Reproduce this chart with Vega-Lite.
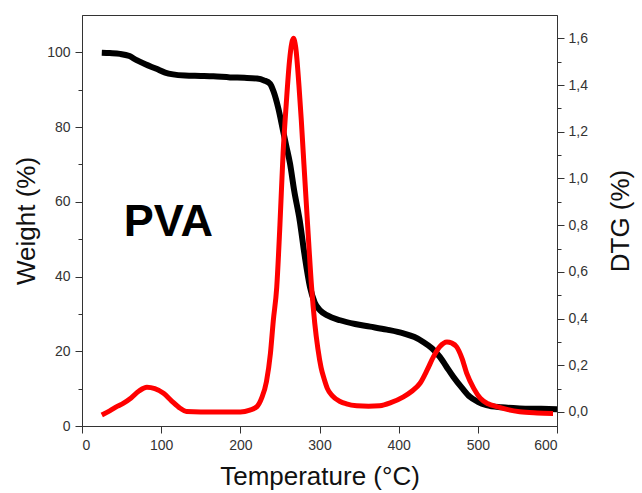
{
  "$schema": "https://vega.github.io/schema/vega-lite/v6.json",
  "autosize": "none",
  "width": 475,
  "height": 411,
  "padding": {"left": 82, "top": 15, "right": 85, "bottom": 67},
  "background": "white",
  "config": {
    "view": {"stroke": "#333", "strokeWidth": 1},
    "font": "Liberation Sans",
    "axis": {
      "labelFont": "Liberation Sans",
      "labelFontSize": 14,
      "labelColor": "#333",
      "titleFont": "Liberation Sans",
      "titleFontSize": 26,
      "titleFontWeight": "normal",
      "titleColor": "#111",
      "domainColor": "#333",
      "tickColor": "#333",
      "grid": false
    }
  },
  "datasets": {
    "tga": [
      {"T": 25, "W": 99.9}, {"T": 35, "W": 99.8}, {"T": 48, "W": 99.6}, {"T": 60, "W": 99.0},
      {"T": 69, "W": 97.9}, {"T": 80, "W": 96.8}, {"T": 94, "W": 95.6}, {"T": 105, "W": 94.6},
      {"T": 115, "W": 94.1}, {"T": 130, "W": 93.8}, {"T": 150, "W": 93.7}, {"T": 166, "W": 93.6},
      {"T": 187, "W": 93.3}, {"T": 205, "W": 93.2}, {"T": 221, "W": 93.0}, {"T": 230, "W": 92.5},
      {"T": 237.5, "W": 91.6}, {"T": 242, "W": 89.5}, {"T": 248, "W": 85}, {"T": 254, "W": 79},
      {"T": 258, "W": 75}, {"T": 262.7, "W": 70.3}, {"T": 268, "W": 63}, {"T": 275, "W": 55},
      {"T": 281, "W": 46}, {"T": 288, "W": 37.2}, {"T": 294, "W": 33}, {"T": 300.6, "W": 31.0},
      {"T": 310, "W": 29.6}, {"T": 326, "W": 28.3}, {"T": 345, "W": 27.3}, {"T": 364, "W": 26.6},
      {"T": 385, "W": 25.8}, {"T": 406, "W": 24.8}, {"T": 420, "W": 23.8}, {"T": 431, "W": 22.5},
      {"T": 442, "W": 20.8}, {"T": 452, "W": 18.5}, {"T": 460, "W": 16}, {"T": 469, "W": 13.2},
      {"T": 480, "W": 10.2}, {"T": 490, "W": 7.8}, {"T": 500, "W": 6.5}, {"T": 511, "W": 5.6},
      {"T": 530, "W": 5.0}, {"T": 553, "W": 4.7}, {"T": 580, "W": 4.6}, {"T": 600, "W": 4.5}
    ],
    "dtg": [
      {"T": 25, "D": -0.013}, {"T": 35, "D": 0.005}, {"T": 45, "D": 0.025}, {"T": 52, "D": 0.037},
      {"T": 62, "D": 0.06}, {"T": 72, "D": 0.09}, {"T": 82, "D": 0.106}, {"T": 92, "D": 0.1},
      {"T": 103, "D": 0.08}, {"T": 113, "D": 0.048}, {"T": 124, "D": 0.016}, {"T": 132, "D": 0.002},
      {"T": 150, "D": 0.0}, {"T": 175, "D": 0.0}, {"T": 200, "D": 0.0}, {"T": 212, "D": 0.008},
      {"T": 221, "D": 0.023}, {"T": 227, "D": 0.06}, {"T": 233, "D": 0.13}, {"T": 238, "D": 0.25},
      {"T": 241.6, "D": 0.39}, {"T": 246, "D": 0.535}, {"T": 250, "D": 0.8}, {"T": 254, "D": 1.108},
      {"T": 258, "D": 1.32}, {"T": 262, "D": 1.5}, {"T": 265, "D": 1.58}, {"T": 267, "D": 1.6},
      {"T": 270, "D": 1.56}, {"T": 274, "D": 1.4}, {"T": 277, "D": 1.25}, {"T": 279.5, "D": 1.108},
      {"T": 285, "D": 0.8}, {"T": 290, "D": 0.535}, {"T": 294, "D": 0.38}, {"T": 298, "D": 0.27},
      {"T": 302, "D": 0.19}, {"T": 306, "D": 0.14}, {"T": 310, "D": 0.1}, {"T": 316, "D": 0.07},
      {"T": 326, "D": 0.045}, {"T": 334, "D": 0.035}, {"T": 347, "D": 0.027}, {"T": 362, "D": 0.025},
      {"T": 376, "D": 0.027}, {"T": 390, "D": 0.04}, {"T": 406, "D": 0.065}, {"T": 417, "D": 0.09},
      {"T": 427, "D": 0.123}, {"T": 436, "D": 0.18}, {"T": 444, "D": 0.237}, {"T": 452, "D": 0.28},
      {"T": 461, "D": 0.3}, {"T": 467, "D": 0.295}, {"T": 473, "D": 0.28}, {"T": 480, "D": 0.23},
      {"T": 486, "D": 0.165}, {"T": 495, "D": 0.1}, {"T": 503, "D": 0.059}, {"T": 513, "D": 0.035},
      {"T": 524, "D": 0.023}, {"T": 538, "D": 0.01}, {"T": 553, "D": 0.001}, {"T": 575, "D": -0.004},
      {"T": 595, "D": -0.006}
    ],
    "label": [{"T": 109, "W": 54.5, "text": "PVA"}]
  },
  "layer": [
    {
      "layer": [
        {
          "data": {"name": "tga"},
          "mark": {"type": "line", "color": "#000000", "strokeWidth": 6, "interpolate": "monotone", "clip": true},
          "encoding": {
            "x": {
              "field": "T", "type": "quantitative",
              "scale": {"domain": [0, 600], "nice": false, "zero": false},
              "axis": {
                "title": "Temperature (°C)",
                "values": [0, 50, 100, 150, 200, 250, 300, 350, 400, 450, 500, 550, 600],
                "labelExpr": "datum.value % 100 == 0 ? datum.label : ''",
                "tickSize": {"condition": {"test": "datum.value % 100 == 0", "value": 7}, "value": 4},
                "labelPadding": 5,
                "titlePadding": 11
              }
            },
            "y": {
              "field": "W", "type": "quantitative",
              "scale": {"domain": [0, 110], "nice": false, "zero": false},
              "axis": {
                "orient": "left",
                "title": "Weight (%)",
                "values": [0, 10, 20, 30, 40, 50, 60, 70, 80, 90, 100],
                "labelExpr": "datum.value % 20 == 0 ? datum.label : ''",
                "tickSize": {"condition": {"test": "datum.value % 20 == 0", "value": 7}, "value": 4},
                "labelPadding": 5,
                "titlePadding": 7
              }
            }
          }
        },
        {
          "data": {"name": "label"},
          "mark": {"type": "text", "fontSize": 45, "fontWeight": "bold", "font": "Liberation Sans", "color": "#000", "align": "center", "baseline": "middle"},
          "encoding": {
            "x": {"field": "T", "type": "quantitative"},
            "y": {"field": "W", "type": "quantitative"},
            "text": {"field": "text"}
          }
        }
      ]
    },
    {
      "data": {"name": "dtg"},
      "mark": {"type": "line", "color": "#ff0000", "strokeWidth": 5, "interpolate": "monotone", "clip": true},
      "encoding": {
        "x": {"field": "T", "type": "quantitative"},
        "y": {
          "field": "D", "type": "quantitative",
          "scale": {"domain": [-0.06, 1.7], "nice": false, "zero": false},
          "axis": {
            "orient": "right",
            "title": "DTG (%)",
            "titleAngle": 270,
            "titleBaseline": "top",
            "values": [0, 0.1, 0.2, 0.3, 0.4, 0.5, 0.6, 0.7, 0.8, 0.9, 1.0, 1.1, 1.2, 1.3, 1.4, 1.5, 1.6],
            "labelExpr": "(round(datum.value * 10) % 2 == 0) ? replace(format(datum.value, '.1f'), '.', ',') : ''",
            "tickSize": {"condition": {"test": "round(datum.value * 10) % 2 == 0", "value": 7}, "value": 4},
            "labelPadding": 4,
            "titlePadding": 20
          }
        }
      }
    }
  ],
  "resolve": {"scale": {"y": "independent"}}
}
